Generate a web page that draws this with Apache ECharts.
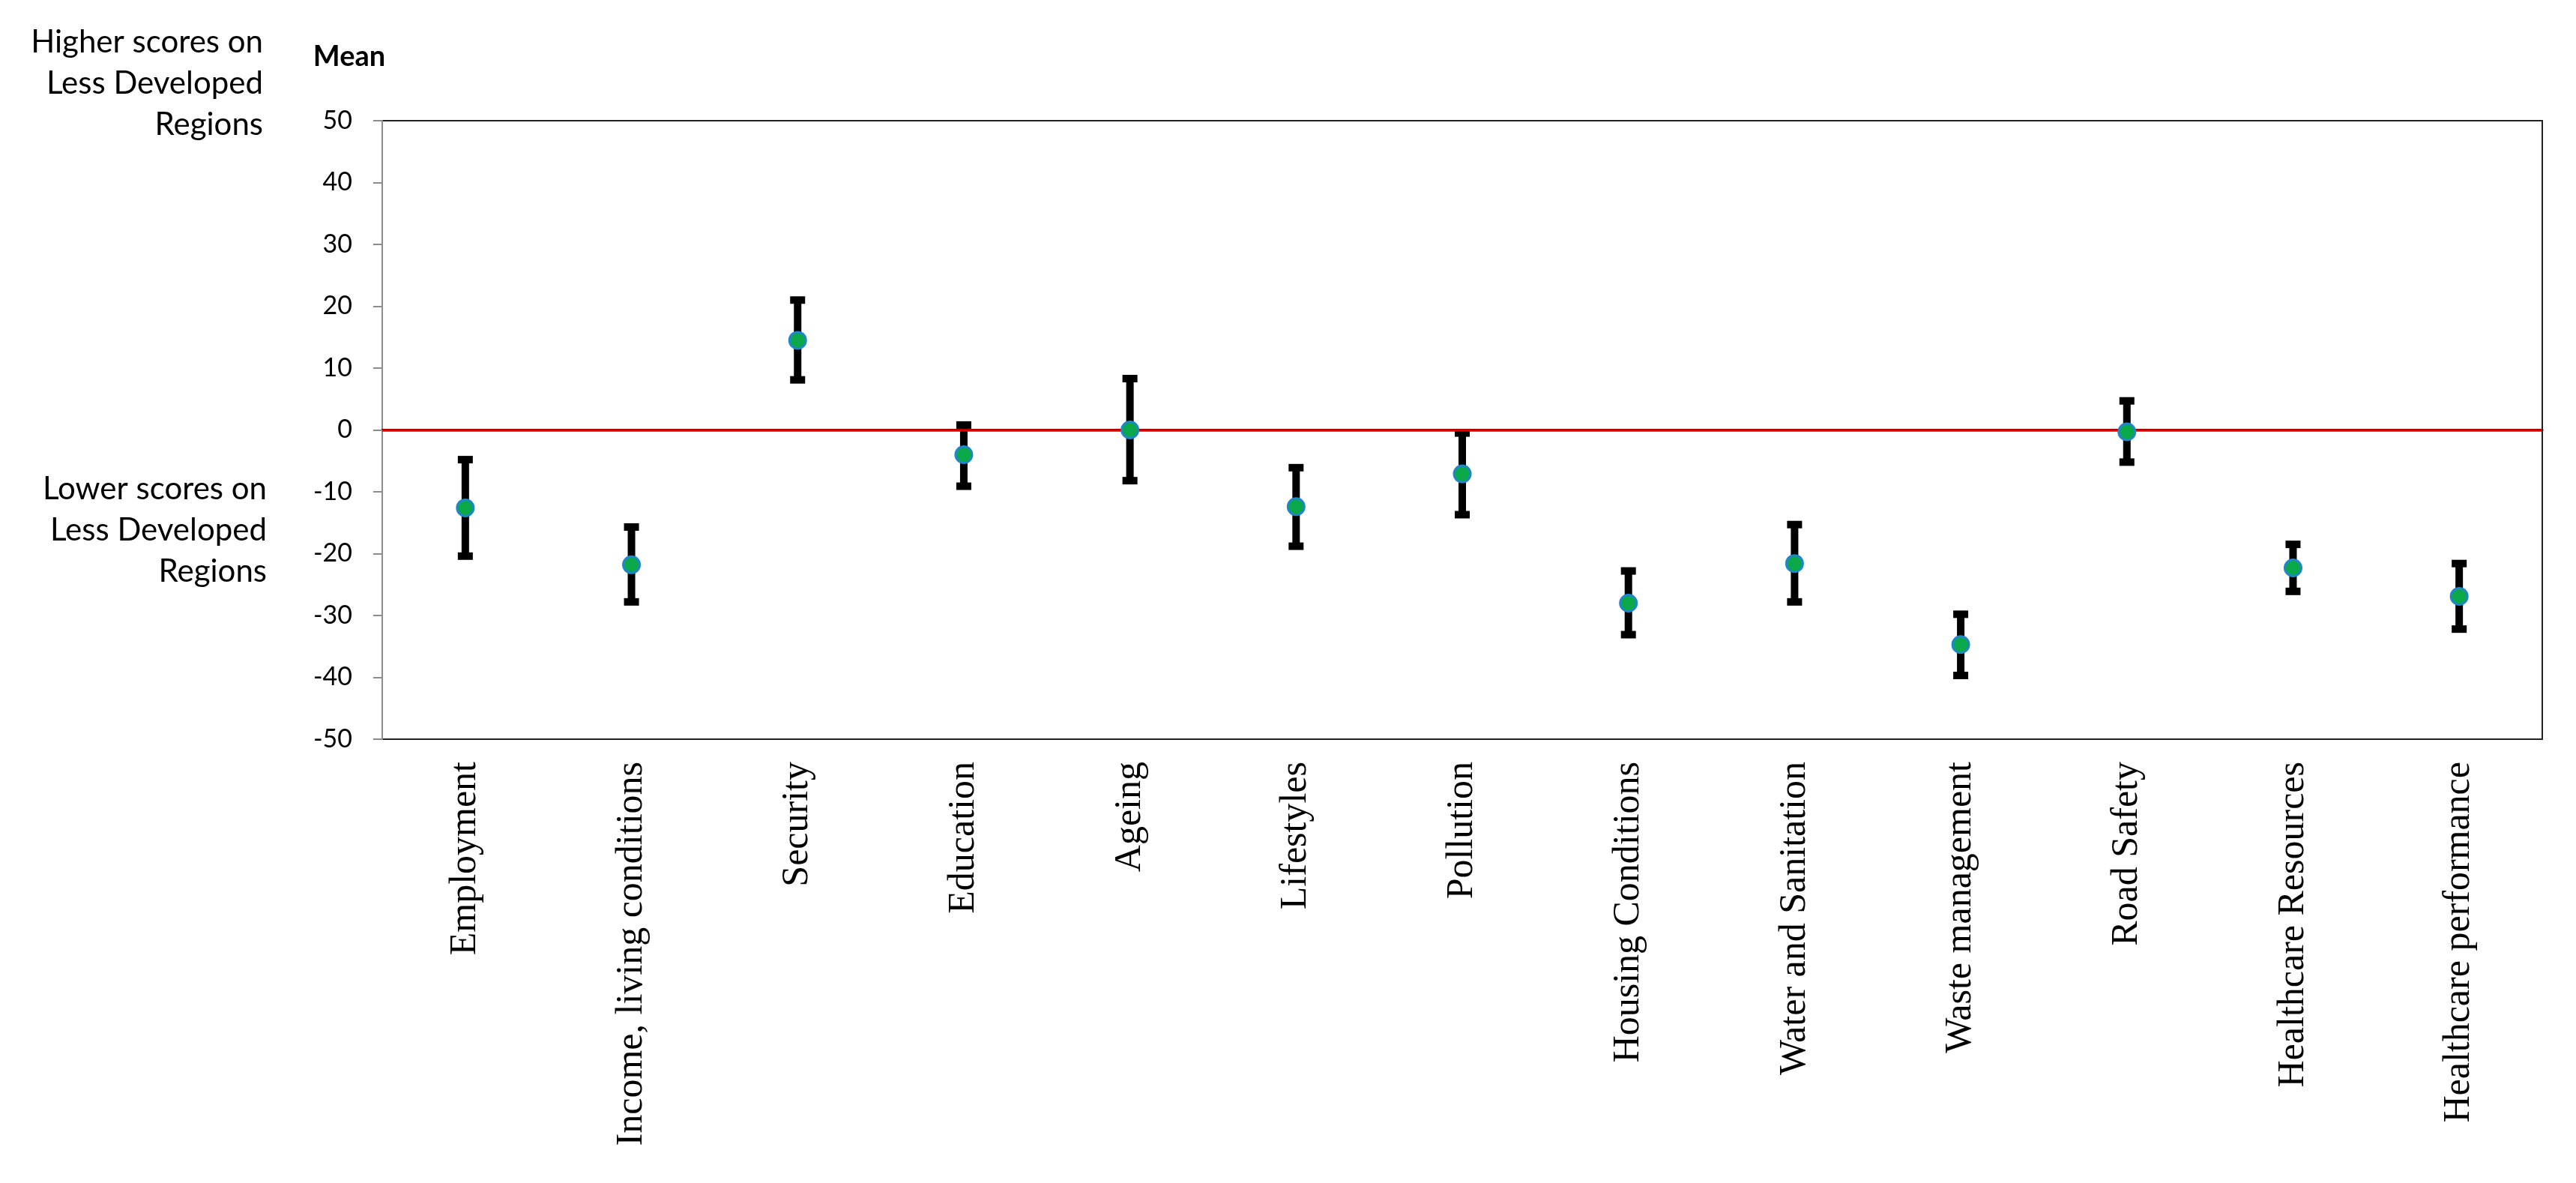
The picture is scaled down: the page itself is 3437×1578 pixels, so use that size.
<!DOCTYPE html>
<html>
<head>
<meta charset="utf-8">
<script src="https://cdn.jsdelivr.net/npm/echarts@6/dist/echarts.min.js"></script>
<style>
html,body{margin:0;padding:0;background:#fff;}
#chart{width:3437px;height:1578px;}
</style>
</head>
<body>
<div id="chart"></div>
<script>
const categories = ["Employment","Income, living conditions","Security","Education","Ageing","Lifestyles","Pollution","Housing Conditions","Water and Sanitation","Waste management","Road Safety","Healthcare Resources","Healthcare performance"];
const means = [-12.6, -21.8, 14.5, -4.0, 0.0, -12.4, -7.1, -28.0, -21.6, -34.7, -0.3, -22.3, -26.9];
const lowerBounds = [-20.4, -27.8, 8.1, -9.1, -8.2, -18.8, -13.7, -33.1, -27.8, -39.7, -5.2, -26.1, -32.2];
const upperBounds = [-4.8, -15.7, 21.0, 0.8, 8.3, -6.1, -0.5, -22.8, -15.3, -29.8, 4.7, -18.5, -21.6];
const yTicks = {min: -50, max: 50, interval: 10};
const annotTop = "Higher scores on\nLess Developed\nRegions";
const annotBottom = "Lower scores on\nLess Developed\nRegions";
const yTitle = "Mean";

const errData = categories.map((c, i) => [i, lowerBounds[i], upperBounds[i]]);

const chart = echarts.init(document.getElementById('chart'), null, {renderer: 'canvas'});
chart.setOption({
  animation: false,
  backgroundColor: '#ffffff',
  grid: {left: 510, top: 161, right: 45, bottom: 592, show: true, borderColor: '#222', borderWidth: 2, backgroundColor: 'transparent'},
  graphic: [
    {type: 'text', x: 351, y: 111, style: {text: annotTop, font: '42px Lato', fill: '#000', align: 'right', verticalAlign: 'middle', lineHeight: 55}},
    {type: 'text', x: 356, y: 707, style: {text: annotBottom, font: '42px Lato', fill: '#000', align: 'right', verticalAlign: 'middle', lineHeight: 55}},
    {type: 'text', x: 466, y: 76, style: {text: yTitle, font: 'bold 38px Lato', fill: '#000', align: 'center', verticalAlign: 'middle'}}
  ],
  xAxis: {
    type: 'category',
    data: categories,
    boundaryGap: true,
    axisLine: {show: true, lineStyle: {color: '#000', width: 3}},
    axisTick: {show: false},
    splitLine: {show: false},
    axisLabel: {interval: 0, rotate: 90, margin: 30, fontFamily: 'Liberation Serif', fontSize: 50, color: '#000'}
  },
  yAxis: {
    type: 'value',
    min: yTicks.min, max: yTicks.max, interval: yTicks.interval,
    axisLine: {show: true, lineStyle: {color: '#8c8c8c', width: 2}},
    axisTick: {show: true, length: 12, lineStyle: {color: '#8c8c8c', width: 2}},
    splitLine: {show: false},
    axisLabel: {margin: 40, fontFamily: 'Lato', fontSize: 34, color: '#000'}
  },
  series: [
    {
      type: 'custom',
      name: 'CI',
      data: errData,
      z: 3,
      renderItem: function (params, api) {
        const hi = api.coord([api.value(0), api.value(2)]);
        const lo = api.coord([api.value(0), api.value(1)]);
        const sw = 10, cw = 20, ch = 10;
        return {
          type: 'group',
          children: [
            {type: 'rect', shape: {x: hi[0] - sw / 2, y: hi[1], width: sw, height: lo[1] - hi[1]}, style: {fill: '#000'}},
            {type: 'rect', shape: {x: hi[0] - cw / 2, y: hi[1] - ch / 2, width: cw, height: ch}, style: {fill: '#000'}},
            {type: 'rect', shape: {x: lo[0] - cw / 2, y: lo[1] - ch / 2, width: cw, height: ch}, style: {fill: '#000'}}
          ]
        };
      },
      markLine: {
        silent: true,
        symbol: 'none',
        label: {show: false},
        lineStyle: {color: '#dd0000', width: 3.5, type: 'solid'},
        data: [{yAxis: 0}]
      }
    },
    {
      type: 'scatter',
      name: 'Mean',
      data: means,
      z: 5,
      symbol: 'circle',
      symbolSize: 22,
      itemStyle: {color: '#0ba84a', borderColor: '#1f86c9', borderWidth: 3, opacity: 1}
    }
  ]
});
</script>
</body>
</html>
